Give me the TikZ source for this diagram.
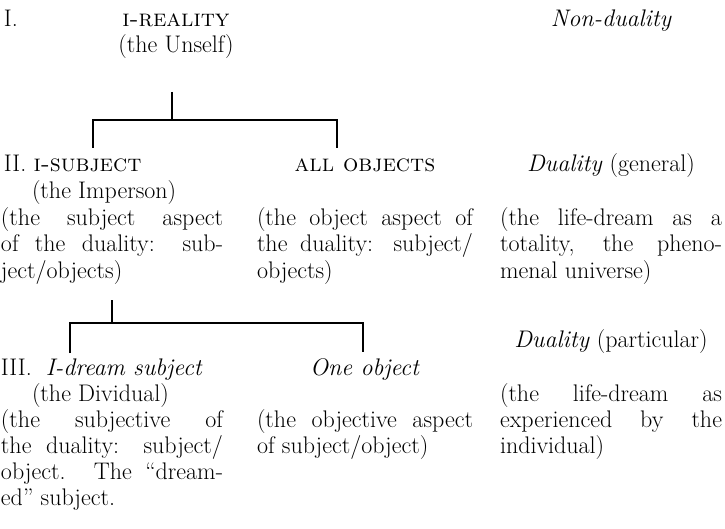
\documentclass[tikz,border=0pt]{standalone}
\newcommand{\JL}[2]{\hbox to #1{#2}}
\newcommand{\PL}[1]{\hbox{#1}}
\tikzset{
  lbl/.style={inner sep=0pt, outer sep=0pt, font=\fontsize{24}{26}\selectfont},
  conn/.style={line width=2.5pt, line join=miter, line cap=butt},
}
\begin{document}
\begin{tikzpicture}[x=1pt,y=-1pt]
\useasboundingbox (0,0) rectangle (725,529);
% row I
\node[lbl,anchor=base west] (numI) at (4,27) {I.};
\node[lbl,anchor=base] (reality) at (176,27) {\textsc{i-reality}};
\node[lbl,anchor=base] (unself) at (176,53) {(the Unself)};
\node[lbl,anchor=base] (nondual) at (611,27) {\itshape Non-duality};
% row II
\node[lbl,anchor=base west] (subj) at (4,172) {II. \textsc{i-subject}};
\node[lbl,anchor=base west] (imperson) at (32,199) {(the Imperson)};
\node[lbl,anchor=base west] (subjdesc) at (1,226) {\vtop{\JL{222pt}{(the subject aspect}\JL{222pt}{of the duality: sub-}\PL{ject/objects)}}};
\node[lbl,anchor=base] (allobj) at (365,172) {\textsc{all objects}};
\node[lbl,anchor=base west] (objdesc) at (257,226) {\vtop{\JL{216pt}{(the object aspect of}\JL{216pt}{the duality: subject/}\PL{objects)}}};
\node[lbl,anchor=base] (dualgen) at (611,172) {\textit{Duality} (general)};
\node[lbl,anchor=base west] (gendesc) at (500,226) {\vtop{\JL{222pt}{(the life-dream as a}\JL{222pt}{totality, the pheno-}\PL{menal universe)}}};
% row III
\node[lbl,anchor=base] (dualpart) at (611,347) {\textit{Duality} (particular)};
\node[lbl,anchor=base west] (dream) at (1,375) {III.\hspace{14pt}\textit{I-dream subject}};
\node[lbl,anchor=base west] (dividual) at (32,401) {(the Dividual)};
\node[lbl,anchor=base west] (dreamdesc) at (1,427) {\vtop{\JL{222pt}{(the subjective of}\JL{222pt}{the duality: subject/}\JL{222pt}{object. The “dream-}\PL{ed” subject.}}};
\node[lbl,anchor=base] (oneobj) at (365,375) {\textit{One object}};
\node[lbl,anchor=base west] (onedesc) at (257,427) {\vtop{\JL{216pt}{(the objective aspect}\PL{of subject/object)}}};
\node[lbl,anchor=base west] (partdesc) at (500,401) {\vtop{\JL{222pt}{(the life-dream as}\JL{222pt}{experienced by the}\PL{individual)}}};
% connectors
\coordinate (s1) at (172,92);
\coordinate (j1) at (172,120);
\coordinate (t1a) at (93,148);
\coordinate (t1b) at (337,148);
\draw[conn] (s1) -- (j1);
\draw[conn] (t1a) |- (j1) -| (t1b);
\coordinate (s2) at (112,300);
\coordinate (j2) at (112,323);
\coordinate (t2a) at (70,353);
\coordinate (t2b) at (363,352);
\draw[conn] (s2) -- (j2);
\draw[conn] (t2a) |- (j2) -| (t2b);
\end{tikzpicture}
\end{document}
